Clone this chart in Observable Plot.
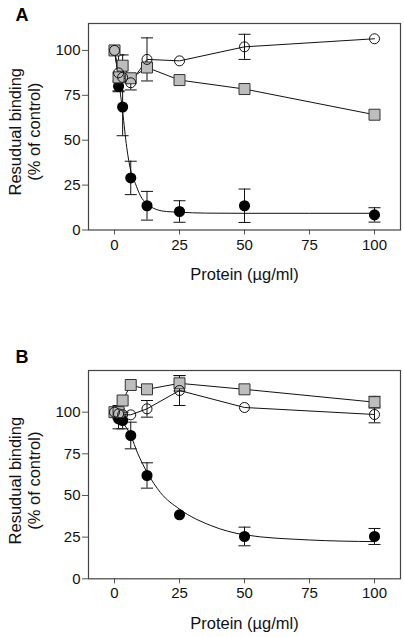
<!DOCTYPE html>
<html><head><meta charset="utf-8">
<script src="https://cdn.jsdelivr.net/npm/d3@7"></script>
<script src="https://cdn.jsdelivr.net/npm/@observablehq/plot@0.6"></script>
<style>
body{margin:0;background:#fff;}
#chart{width:404px;height:637px;}
#chart svg{display:block;}
</style></head><body><div id="chart"></div>
<script>
// Concentrations (µg/ml)
const conc = [0, 1.56, 3.125, 6.25, 12.5, 25, 50, 100];
const xTicks = [0, 25, 50, 75, 100];
const yTicks = [0, 25, 50, 75, 100];
const xLabel = "Protein (µg/ml)";
const yLabel = "Resudual binding\n(% of control)";

// Panel A
const blackA    = [100, 80, 68.5, 29, 13.5, 10.3, 13.5, 8.4];
const blackAErr = [0, 3, 16, 9.3, 8, 6, 9.3, 4];
const openA     = [100, 87.5, 85, 82, 95, 94.2, 102, 106.5];
const openAErr  = [0, 10, 0, 4, 12, 0, 7, 0];
const greyA     = [100, 85, 91.5, 84.5, 90.5, 83.5, 78.5, 64.2];
const greyAErr  = [0, 0, 6, 0, 0, 0, 0, 0];
const fitAx = [0, 1.56, 3.125, 4.7, 6.25, 8, 10, 12.5, 16, 20, 25, 35, 50, 100];
const fitAy = [100, 84, 66, 46, 33, 26, 19, 14.5, 11.5, 10.3, 9.9, 9.4, 9.3, 9.3];

// Panel B
const blackB    = [100, 96, 95, 86, 62, 38.4, 25.4, 25.4];
const blackBErr = [0, 6, 5, 8, 7.6, 0, 5.6, 4.8];
const openB     = [100, 99, 98.5, 98.4, 102, 113, 102.8, 98.6];
const openBErr  = [0, 3, 0, 0, 5, 9, 0, 5];
const greyB     = [100, 100, 107, 116.3, 113.7, 117.3, 113.7, 106];
const greyBErr  = [0, 4, 0, 0, 0, 4.6, 0, 3.5];
const fitBx = [0, 3.125, 6.25, 9, 12.5, 17.7, 25, 37, 50, 75, 100];
const fitBy = [100, 94, 86, 75, 64, 51.7, 41.8, 32, 26.4, 23.3, 22.3];

const FONT = "'Liberation Sans', Arial, Helvetica, sans-serif";
const capSymbol = { draw(ctx) { ctx.moveTo(-6, 0); ctx.lineTo(6, 0); } };

function rows(ys, es) { return conc.map((x, i) => ({ x, y: ys[i], e: es[i] })); }

function errMarks(data) {
  const d = data.filter(r => r.e > 0);
  return [
    Plot.ruleX(d, { x: "x", y1: r => r.y - r.e, y2: r => r.y + r.e, stroke: "#111", strokeWidth: 1 }),
    Plot.dot(d, { x: "x", y: r => r.y + r.e, symbol: capSymbol, r: 3, fill: "none", stroke: "#111", strokeWidth: 1 }),
    Plot.dot(d, { x: "x", y: r => r.y - r.e, symbol: capSymbol, r: 3, fill: "none", stroke: "#111", strokeWidth: 1 })
  ];
}

function panel(p) {
  const black = rows(p.black, p.blackErr);
  const open = rows(p.open, p.openErr);
  const grey = rows(p.grey, p.greyErr);
  const fit = p.fitX.map((x, i) => ({ x, y: p.fitY[i] }));
  return Plot.plot({
    width: 404, height: p.height,
    marginLeft: 88, marginRight: 4, marginTop: p.marginTop, marginBottom: p.marginBottom,
    style: { fontFamily: FONT, fontSize: "15px", color: "#111", background: "#fff" },
    x: { domain: [-10, 110] },
    y: { domain: [0, p.yMax] },
    marks: [
      Plot.axisX({ ticks: xTicks, tickSize: 5, tickPadding: 4, label: null, stroke: "#555", tickFormat: d => String(d) }),
      Plot.axisY({ ticks: yTicks, tickSize: 6, tickPadding: 2, label: null, stroke: "#555", tickFormat: d => String(d) }),
      Plot.frame({ stroke: "#444", strokeWidth: 1.2 }),
      Plot.line(fit, { x: "x", y: "y", curve: "monotone-x", stroke: "#111", strokeWidth: 1 }),
      Plot.line(grey, { x: "x", y: "y", stroke: "#111", strokeWidth: 1 }),
      Plot.line(open, { x: "x", y: "y", stroke: "#111", strokeWidth: 1 }),
      ...errMarks(black), ...errMarks(grey), ...errMarks(open),
      Plot.dot(black, { x: "x", y: "y", r: 4.8, fill: "#000", stroke: "#000" }),
      Plot.dot(grey, { x: "x", y: "y", symbol: "square", r: 6.2, fill: "#bdbdbd", stroke: "#333", strokeWidth: 1 }),
      Plot.dot(open, { x: "x", y: "y", r: 5, fill: "none", stroke: "#111", strokeWidth: 1 }),
      Plot.text([xLabel], { frameAnchor: "bottom", dy: 50, lineAnchor: "bottom", fontSize: 16.5, fill: "#111" }),
      Plot.text([yLabel], { frameAnchor: "left", dx: -64, dy: p.yLabelDy, rotate: -90, textAnchor: "middle", lineAnchor: "middle", lineHeight: 1.15, fontSize: 16.5, fill: "#111" }),
      Plot.text([p.letter], { frameAnchor: "top-left", dx: -73, dy: p.letterDy, textAnchor: "start", lineAnchor: "bottom", fontSize: 18, fontWeight: "bold", fill: "#000" })
    ]
  });
}

const chart = document.getElementById("chart");
chart.append(panel({
  letter: "A", black: blackA, blackErr: blackAErr, open: openA, openErr: openAErr,
  grey: greyA, greyErr: greyAErr, fitX: fitAx, fitY: fitAy,
  yMax: 115, height: 300, marginTop: 23, marginBottom: 70.5, yLabelDy: 5, letterDy: -3
}));
chart.append(panel({
  letter: "B", black: blackB, blackErr: blackBErr, open: openB, openErr: openBErr,
  grey: greyB, greyErr: greyBErr, fitX: fitBx, fitY: fitBy,
  yMax: 125, height: 337, marginTop: 70, marginBottom: 58.7, yLabelDy: 6, letterDy: -8
}));
</script></body></html>
